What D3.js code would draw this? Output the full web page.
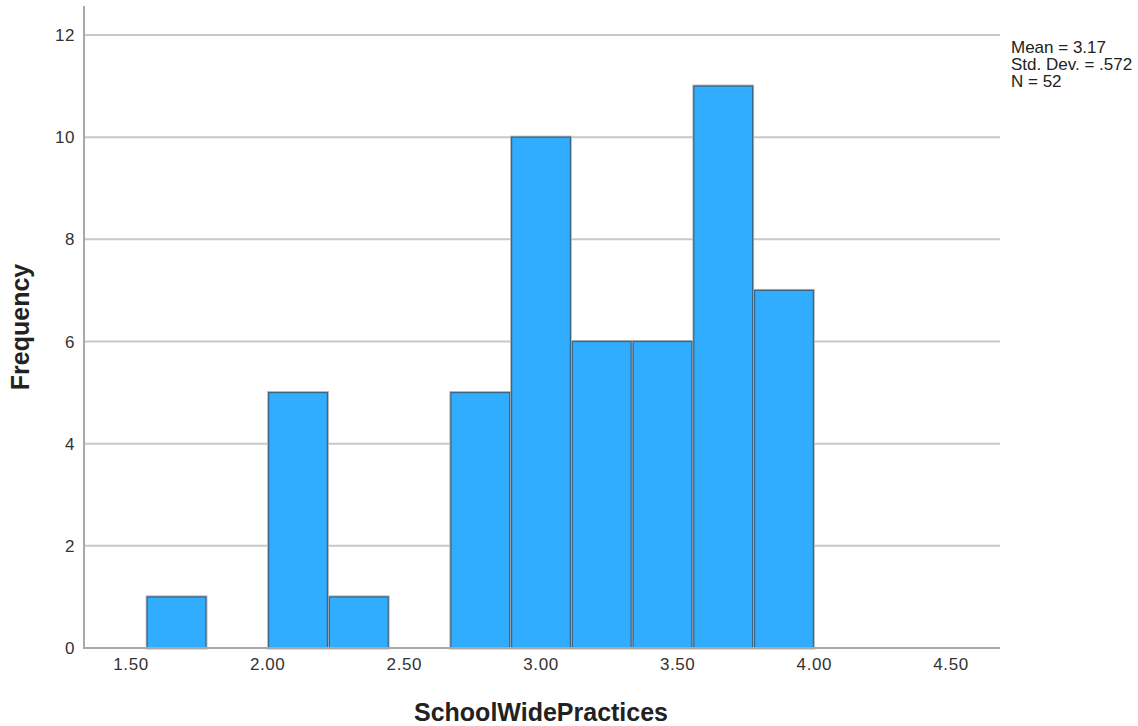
<!DOCTYPE html>
<html><head><meta charset="utf-8">
<script src="https://cdn.jsdelivr.net/npm/d3@7"></script>
<style>body{margin:0;background:#fff;} svg{display:block;font-family:Arial,"Liberation Sans",sans-serif;}</style>
</head><body>
<script>
const binEdges = [14/9, 16/9, 18/9, 20/9, 22/9, 24/9, 26/9, 28/9, 30/9, 32/9, 34/9, 36/9];
const counts = [1, 0, 5, 1, 0, 5, 10, 6, 6, 11, 7];
const xTicks = [1.5, 2.0, 2.5, 3.0, 3.5, 4.0, 4.5];
const yTicks = [0, 2, 4, 6, 8, 10, 12];
const statsLines = ["Mean = 3.17", "Std. Dev. = .572", "N = 52"];

const W = 1138, H = 726;
const svg = d3.select("body").append("svg").attr("width", W).attr("height", H);

const x = d3.scaleLinear().domain([1.5, 4.5]).range([131, 951]);
const y = d3.scaleLinear().domain([0, 12]).range([648, 35]);
const plotL = 84, plotR = 1000, plotT = 6;

// gridlines
svg.append("g").selectAll("line").data(yTicks.filter(d => d > 0)).join("line")
  .attr("x1", plotL).attr("x2", plotR)
  .attr("y1", d => y(d)).attr("y2", d => y(d))
  .attr("stroke", "#c8c8c8").attr("stroke-width", 2);

// bars
const bins = counts.map((c, i) => ({x0: binEdges[i], x1: binEdges[i+1], c}));
const g = svg.append("g");
g.selectAll("rect.halo").data(bins.filter(b => b.c > 0)).join("rect")
  .attr("x", d => x(d.x0) + 1).attr("width", d => x(d.x1) - x(d.x0) - 2)
  .attr("y", d => y(d.c)).attr("height", d => y(0) - y(d.c))
  .attr("fill", "none").attr("stroke", "#b4b4b4").attr("stroke-width", 3);
g.selectAll("rect.bar").data(bins.filter(b => b.c > 0)).join("rect")
  .attr("x", d => x(d.x0) + 1).attr("width", d => x(d.x1) - x(d.x0) - 2)
  .attr("y", d => y(d.c)).attr("height", d => y(0) - y(d.c))
  .attr("fill", "#31adff").attr("stroke", "#3b6585").attr("stroke-width", 1.2);

// axes lines
svg.append("line").attr("x1", plotL).attr("x2", plotL).attr("y1", plotT).attr("y2", 649)
  .attr("stroke", "#a8a8a8").attr("stroke-width", 2);
svg.append("line").attr("x1", plotL - 1).attr("x2", plotR).attr("y1", 648).attr("y2", 648)
  .attr("stroke", "#a8a8a8").attr("stroke-width", 2);

// y tick labels
svg.append("g").selectAll("text").data(yTicks).join("text")
  .attr("x", 75).attr("y", d => y(d)).attr("dy", "0.36em")
  .attr("text-anchor", "end").attr("font-size", 17).attr("letter-spacing", 0.5).attr("fill", "#333")
  .text(d => d3.format("d")(d));

// x tick labels
svg.append("g").selectAll("text").data(xTicks).join("text")
  .attr("x", d => x(d)).attr("y", 670)
  .attr("text-anchor", "middle").attr("font-size", 17).attr("letter-spacing", 0.6).attr("fill", "#333")
  .text(d => d3.format(".2f")(d));

// axis titles
svg.append("text").attr("x", 541).attr("y", 721).attr("text-anchor", "middle")
  .attr("font-size", 25).attr("font-weight", "bold").attr("fill", "#222")
  .text("SchoolWidePractices");
svg.append("text").attr("transform", "translate(29,327) rotate(-90)")
  .attr("text-anchor", "middle").attr("font-size", 25).attr("font-weight", "bold").attr("fill", "#222")
  .text("Frequency");

// stats
svg.append("g").selectAll("text").data(statsLines).join("text")
  .attr("x", 1011).attr("y", (d, i) => 53 + i * 17)
  .attr("font-size", 17).attr("fill", "#222").text(d => d);
</script>
</body></html>
